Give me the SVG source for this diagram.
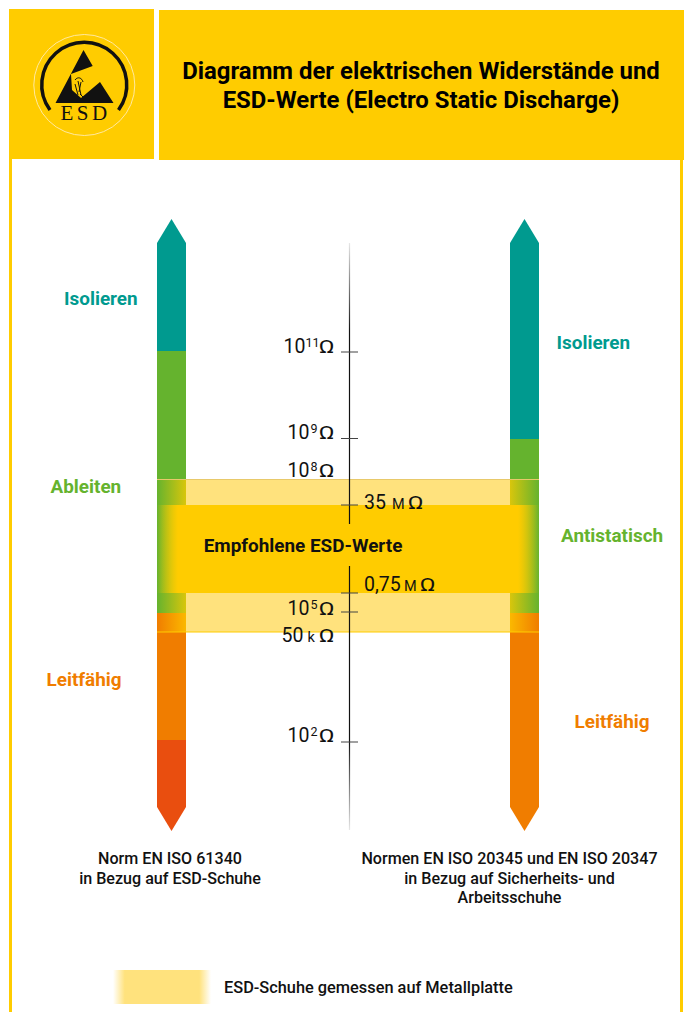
<svg xmlns="http://www.w3.org/2000/svg" width="688" height="1012" viewBox="0 0 688 1012">
<style>
text{font-family:Roboto,"Liberation Sans",sans-serif}
.h{font-size:23.900px;font-weight:700;fill:#000;text-anchor:middle}
.c{font-size:16.100px;font-weight:500;fill:#111;text-anchor:middle}
.l{font-size:18.900px;font-weight:700}
.t{fill:#009a8f}.g{fill:#65b32e}.o{fill:#f07d00}
.v{font-size:19.500px;fill:#111}
.s{font-size:12.500px}
.k{font-size:14.500px}
.w{font-size:19px;font-weight:400;fill:#111;text-anchor:end}
.tick{stroke:#444;stroke-width:1.200}
</style>
<defs>
<linearGradient id="axis" x1="0" y1="243" x2="0" y2="830" gradientUnits="userSpaceOnUse">
<stop offset="0" stop-color="#111" stop-opacity=".1"/><stop offset=".15" stop-color="#111"/><stop offset=".85" stop-color="#111"/><stop offset="1" stop-color="#111" stop-opacity=".1"/>
</linearGradient>
<linearGradient id="fl"><stop offset="0" stop-color="#fc0" stop-opacity="0"/><stop offset="1" stop-color="#fc0"/></linearGradient>
<linearGradient id="fr"><stop offset="0" stop-color="#fc0"/><stop offset="1" stop-color="#fc0" stop-opacity="0"/></linearGradient>
<linearGradient id="pl"><stop offset="0" stop-color="#fc0" stop-opacity="0"/><stop offset="1" stop-color="#fc0" stop-opacity=".75"/></linearGradient>
<linearGradient id="pr"><stop offset="0" stop-color="#fc0" stop-opacity=".75"/><stop offset="1" stop-color="#fc0" stop-opacity="0"/></linearGradient>
<linearGradient id="lg"><stop offset="0" stop-color="#ffe27d" stop-opacity="0"/><stop offset=".12" stop-color="#ffe27d"/><stop offset=".88" stop-color="#ffe27d"/><stop offset="1" stop-color="#ffe27d" stop-opacity="0"/></linearGradient>
</defs>

<g id="frame">
<rect x="9" y="159" width="3" height="853" fill="#fc0"/>
<rect x="680" y="160" width="3" height="852" fill="#fc0"/>
</g>
<g id="logo">
<rect x="9" y="9" width="145" height="150" fill="#fc0"/>
<circle cx="84.300" cy="85" r="50.500" fill="none" stroke="#ffe9a0" stroke-width="1"/>
<path d="M50 110A42.500 42.500 0 1 1 118.500 110" fill="none" stroke="#111" stroke-width="3.500"/>
<path d="M83.500 50L92.700 66L71 74L72 90L81 98L100 82L113.500 103H55.500Z" fill="#111"/>
<path d="M75 80C78 76 82 78 83 82M75 84L78 95M78 81L81 95M81 82L79 92M80 94L83 97" stroke="#111" stroke-width="1" fill="none"/>
<text x="85.500" y="120" text-anchor="middle" style="font-family:'Liberation Serif',serif;font-size:21px;letter-spacing:3.500px" fill="#111">ESD</text>
</g>
<g id="title">
<rect x="159" y="10" width="525" height="150" fill="#fc0"/>
<text class="h" x="421" y="79">Diagramm der elektrischen Widerstände und</text>
<text class="h" x="421" y="108">ESD-Werte (Electro Static Discharge)</text>
</g>

<g id="bar-left">
<path d="M157 243L171.500 219L186 243V351H157Z" fill="#009a8f"/>
<rect x="157" y="351" width="29" height="262" fill="#65b32e"/>
<rect x="157" y="613" width="29" height="127" fill="#f07d00"/>
<path d="M157 740H186V807L171.500 831L157 807Z" fill="#e94e0f"/>
</g>
<g id="bar-right">
<path d="M510 243L524.500 219L539 243V439H510Z" fill="#009a8f"/>
<rect x="510" y="439" width="29" height="174" fill="#65b32e"/>
<path d="M510 613H539V807L524.500 831L510 807Z" fill="#f07d00"/>
</g>

<g id="band-pale">
<rect x="186" y="479" width="324" height="153" fill="#ffe27d"/>
<rect x="157" y="479" width="29" height="153" fill="url(#pl)"/>
<rect x="510" y="479" width="29" height="153" fill="url(#pr)"/>
<path d="M157 479.500H539" stroke="#e8c96a" stroke-width="1"/>
<path d="M157 632H539" stroke="#fc0" stroke-width="1"/>
</g>

<g id="connectors">
<path d="M349.500 243V524M349.500 566V830" stroke="url(#axis)" stroke-width="1.200" fill="none"/>
<path class="tick" d="M341 352H358M341 438.500H358M341 612H358M341 742H358"/>
</g>

<g id="band-strong">
<rect x="178" y="505" width="340" height="88" fill="#fc0"/>
<rect x="157" y="505" width="21" height="88" fill="url(#fl)"/>
<rect x="518" y="505" width="21" height="88" fill="url(#fr)"/>
<path d="M349.500 505V524M349.500 566V593" stroke="#111" stroke-width="1.200"/>
<path class="tick" d="M341 505H358M341 593H358"/>
<text x="303" y="552" text-anchor="middle" style="font-size:18.900px;font-weight:700" fill="#111">Empfohlene ESD-Werte</text>
</g>

<g id="values">
<text class="v" x="283.500" y="353">10<tspan class="s" dy="-6">11</tspan></text>
<text class="w" transform="translate(334.500 353) scale(1.250 1)">Ω</text>
<text class="v" x="287.500" y="439">10<tspan class="s" dy="-6" dx="1">9</tspan></text>
<text class="w" transform="translate(334.500 439) scale(1.250 1)">Ω</text>
<text class="v" x="287.500" y="477">10<tspan class="s" dy="-6" dx="1">8</tspan></text>
<text class="w" transform="translate(334.500 477) scale(1.250 1)">Ω</text>
<text class="v" x="364" y="508.500">35<tspan class="k" x="392">M</tspan></text>
<text class="w" transform="translate(423.500 508.500) scale(1.250 1)">Ω</text>
<text class="v" x="364" y="591">0,75<tspan class="k" x="404">M</tspan></text>
<text class="w" transform="translate(435.500 591) scale(1.250 1)">Ω</text>
<text class="v" x="287.500" y="615">10<tspan class="s" dy="-6" dx="1">5</tspan></text>
<text class="w" transform="translate(334.500 615) scale(1.250 1)">Ω</text>
<text class="v" x="281.500" y="641.500">50<tspan class="k" x="307.500">k</tspan></text>
<text class="w" transform="translate(334.500 641.500) scale(1.250 1)">Ω</text>
<text class="v" x="287.500" y="741.500">10<tspan class="s" dy="-6" dx="1">2</tspan></text>
<text class="w" transform="translate(334.500 741.500) scale(1.250 1)">Ω</text>
</g>

<g id="labels">
<text class="l t" x="64" y="305">Isolieren</text>
<text class="l g" x="50.500" y="493">Ableiten</text>
<text class="l o" x="46.500" y="686">Leitfähig</text>
<text class="l t" x="556.500" y="349">Isolieren</text>
<text class="l g" x="561" y="542">Antistatisch</text>
<text class="l o" x="574.500" y="728">Leitfähig</text>
</g>

<g id="captions">
<text class="c" x="170" y="864">Norm EN ISO 61340</text>
<text class="c" x="170" y="884">in Bezug auf ESD-Schuhe</text>
<text class="c" x="509.500" y="864">Normen EN ISO 20345 und EN ISO 20347</text>
<text class="c" x="509.500" y="884">in Bezug auf Sicherheits- und</text>
<text class="c" x="509.500" y="903">Arbeitsschuhe</text>
</g>

<g id="legend">
<rect x="113" y="970" width="98" height="34" fill="url(#lg)"/>
<text x="224" y="993" style="font-size:16.350px;font-weight:500" fill="#111">ESD-Schuhe gemessen auf Metallplatte</text>
</g>
</svg>
